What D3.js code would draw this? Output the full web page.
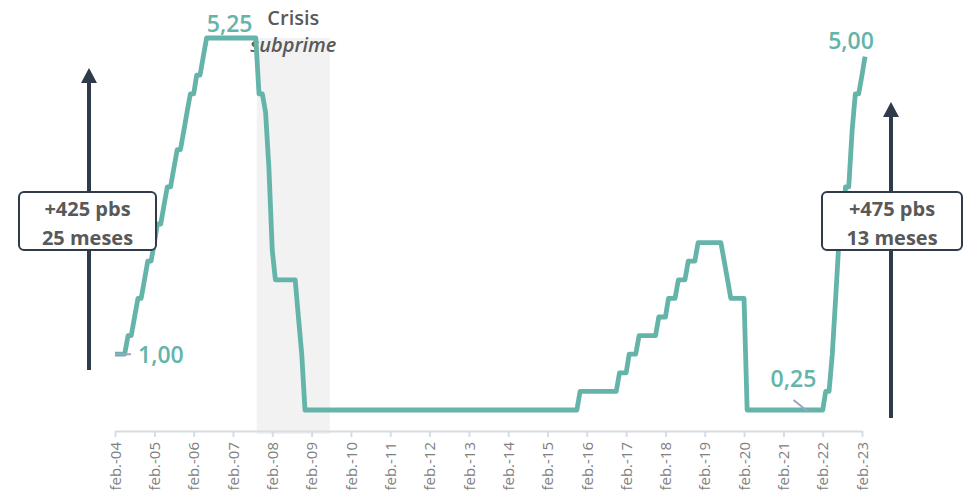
<!DOCTYPE html>
<html>
<head>
<meta charset="utf-8">
<script src="https://cdn.jsdelivr.net/npm/d3@7"></script>
<style>
	body { margin: 0; background: #fff; }
	svg { display: block; font-family: "Open Sans", sans-serif; }
</style>
</head>
<body>
<script>
const w = 971;
const h = 495;

// tipo objetivo (%), un valor por mes desde feb-2004
const rate2004 = [1.00, 1.00, 1.00, 1.00, 1.25, 1.25, 1.50, 1.75, 1.75, 2.00, 2.25];
const rate2005 = [2.25, 2.50, 2.75, 2.75, 3.00, 3.25, 3.25, 3.50, 3.75, 3.75, 4.00, 4.25];
const rate2006 = [4.50, 4.50, 4.75, 4.75, 5.00, 5.25, 5.25, 5.25, 5.25, 5.25, 5.25, 5.25];
const rate2007 = [5.25, 5.25, 5.25, 5.25, 5.25, 5.25, 5.25, 5.25, 5.25, 4.50, 4.50, 4.25];
const rate2008 = [3.50, 2.40, 2.00, 2.00, 2.00, 2.00, 2.00, 2.00, 2.00, 1.50, 1.00, 0.25];
const rate2009 = [0.25, 0.25, 0.25, 0.25, 0.25, 0.25, 0.25, 0.25, 0.25, 0.25, 0.25, 0.25];
const rate2010 = [0.25, 0.25, 0.25, 0.25, 0.25, 0.25, 0.25, 0.25, 0.25, 0.25, 0.25, 0.25];
const rate2011 = [0.25, 0.25, 0.25, 0.25, 0.25, 0.25, 0.25, 0.25, 0.25, 0.25, 0.25, 0.25];
const rate2012 = [0.25, 0.25, 0.25, 0.25, 0.25, 0.25, 0.25, 0.25, 0.25, 0.25, 0.25, 0.25];
const rate2013 = [0.25, 0.25, 0.25, 0.25, 0.25, 0.25, 0.25, 0.25, 0.25, 0.25, 0.25, 0.25];
const rate2014 = [0.25, 0.25, 0.25, 0.25, 0.25, 0.25, 0.25, 0.25, 0.25, 0.25, 0.25, 0.25];
const rate2015 = [0.25, 0.25, 0.25, 0.25, 0.25, 0.25, 0.25, 0.25, 0.25, 0.25, 0.25, 0.50];
const rate2016 = [0.50, 0.50, 0.50, 0.50, 0.50, 0.50, 0.50, 0.50, 0.50, 0.50, 0.50, 0.75];
const rate2017 = [0.75, 0.75, 1.00, 1.00, 1.00, 1.25, 1.25, 1.25, 1.25, 1.25, 1.25, 1.50];
const rate2018 = [1.50, 1.50, 1.75, 1.75, 1.75, 2.00, 2.00, 2.00, 2.25, 2.25, 2.25, 2.50];
const rate2019 = [2.50, 2.50, 2.50, 2.50, 2.50, 2.50, 2.50, 2.25, 2.00, 1.75, 1.75, 1.75];
const rate2020 = [1.75, 1.75, 0.25, 0.25, 0.25, 0.25, 0.25, 0.25, 0.25, 0.25, 0.25, 0.25];
const rate2021 = [0.25, 0.25, 0.25, 0.25, 0.25, 0.25, 0.25, 0.25, 0.25, 0.25, 0.25, 0.25];
const rate2022 = [0.25, 0.25, 0.50, 0.50, 1.00, 1.75, 2.50, 2.50, 3.25, 3.25, 4.00, 4.50];
const rate2023 = [4.50, 4.75, 5.00];

const tickYears = ['04', '05', '06', '07', '08', '09', '10', '11', '12', '13',
	'14', '15', '16', '17', '18', '19', '20', '21', '22', '23'];

const crisisPeriod = ['2007-09-10', '2009-07-20'];

const valueLabels = [
	{ date: '2007-01-01', value: 5.25, text: '5,25' },
	{ date: '2023-03-01', value: 5.00, text: '5,00' },
	{ date: '2004-02-01', value: 1.00, text: '1,00' },
	{ date: '2021-10-01', value: 0.25, text: '0,25' }
];

const hikes = [
	{ lines: ['+425 pbs', '25 meses'] },
	{ lines: ['+475 pbs', '13 meses'] }
];

const teal = '#64b4aa';
const navy = '#2f3b4b';
const grey = '#595959';

const allRates = [].concat(rate2004, rate2005, rate2006, rate2007, rate2008, rate2009,
	rate2010, rate2011, rate2012, rate2013, rate2014, rate2015, rate2016, rate2017,
	rate2018, rate2019, rate2020, rate2021, rate2022, rate2023);
const start = new Date(2004, 1, 1);
const data = allRates.map((v, i) => ({ date: d3.timeMonth.offset(start, i), value: v }));
const parse = d3.timeParse('%Y-%m-%d');

const x = d3.scaleTime()
	.domain([start, new Date(2023, 1, 1)])
	.range([115, 862]);

const y = d3.scaleLinear()
	.domain([0, 5.25])
	.range([428.6, 38]);

const axisY = 431;

const svg = d3.select('body').append('svg')
	.attr('width', w)
	.attr('height', h);

// sombreado crisis
svg.append('rect')
	.attr('x', x(parse(crisisPeriod[0])))
	.attr('y', y(5.25))
	.attr('width', x(parse(crisisPeriod[1])) - x(parse(crisisPeriod[0])))
	.attr('height', axisY + 3 - y(5.25))
	.attr('fill', '#f2f2f2');

const crisisMid = (x(parse(crisisPeriod[0])) + x(parse(crisisPeriod[1]))) / 2;
svg.append('text')
	.attr('x', crisisMid)
	.attr('y', 25)
	.attr('text-anchor', 'middle')
	.style('font-size', '20px')
	.style('font-weight', 600)
	.attr('fill', grey)
	.text('Crisis');
svg.append('text')
	.attr('x', crisisMid)
	.attr('y', 52)
	.attr('text-anchor', 'middle')
	.style('font-size', '20px')
	.style('font-weight', 600)
	.style('font-style', 'italic')
	.attr('fill', grey)
	.text('subprime');

// eje x
const xAxis = d3.axisBottom(x)
	.tickValues(tickYears.map(yy => new Date(2000 + +yy, 1, 1)))
	.tickSize(6)
	.tickSizeOuter(0)
	.tickFormat((d, i) => 'feb.-' + tickYears[i]);

const gx = svg.append('g')
	.attr('transform', `translate(0,${axisY})`)
	.call(xAxis);

gx.select('.domain').attr('stroke', '#d6dce5').attr('stroke-width', 2);
gx.selectAll('.tick line').attr('stroke', '#d6dce5').attr('stroke-width', 2);
gx.selectAll('.tick text')
	.attr('transform', 'rotate(-90)')
	.attr('text-anchor', 'end')
	.attr('x', -11)
	.attr('y', 0)
	.attr('dy', '0.35em')
	.attr('fill', '#808080')
	.style('font-family', '"Open Sans", sans-serif')
	.style('font-size', '15px');

// serie
const line = d3.line()
	.x(d => x(d.date))
	.y(d => y(d.value));

svg.append('path')
	.datum(data)
	.attr('d', line)
	.attr('fill', 'none')
	.attr('stroke', teal)
	.attr('stroke-width', 4.8)
	.attr('stroke-linejoin', 'round');

// etiquetas de valor
const lbl = valueLabels.map(d => ({ ...d, px: x(parse(d.date)), py: y(d.value) }));

svg.append('line')
	.attr('x1', lbl[2].px).attr('x2', lbl[2].px + 16)
	.attr('y1', lbl[2].py).attr('y2', lbl[2].py)
	.attr('stroke', '#9aa6bf').attr('stroke-width', 2);

svg.append('line')
	.attr('x1', lbl[3].px - 16).attr('y1', lbl[3].py - 10)
	.attr('x2', lbl[3].px - 1).attr('y2', lbl[3].py + 2)
	.attr('stroke', '#9aa6bf').attr('stroke-width', 2);

const labelPos = [
	{ dx: 0, dy: -6, anchor: 'middle' },
	{ dx: -14, dy: -8, anchor: 'middle' },
	{ dx: 23, dy: 9, anchor: 'start' },
	{ dx: -16, dy: -23, anchor: 'middle' }
];

svg.selectAll('.vlabel')
	.data(lbl)
	.enter()
	.append('text')
	.attr('class', 'vlabel')
	.attr('x', (d, i) => d.px + labelPos[i].dx)
	.attr('y', (d, i) => d.py + labelPos[i].dy)
	.attr('text-anchor', (d, i) => labelPos[i].anchor)
	.style('font-size', '23px')
	.style('font-weight', 600)
	.attr('fill', teal)
	.text(d => d.text);

// flechas y cajas
const arrows = [
	{ cx: 89, top: 68, bottom: 370, box: [19, 192, 137, 58] },
	{ cx: 891, top: 102, bottom: 418, box: [822, 192, 140, 58] }
];

arrows.forEach((a, i) => {
	svg.append('line')
		.attr('x1', a.cx).attr('x2', a.cx)
		.attr('y1', a.bottom).attr('y2', a.top + 12)
		.attr('stroke', navy).attr('stroke-width', 4);
	svg.append('path')
		.attr('d', `M${a.cx - 8},${a.top + 15}L${a.cx + 8},${a.top + 15}L${a.cx},${a.top}Z`)
		.attr('fill', navy);
	const [bx, by, bw, bh] = a.box;
	svg.append('rect')
		.attr('x', bx).attr('y', by)
		.attr('width', bw).attr('height', bh)
		.attr('rx', 5)
		.attr('fill', '#fff')
		.attr('stroke', navy)
		.attr('stroke-width', 2);
	hikes[i].lines.forEach((t, j) => {
		svg.append('text')
			.attr('x', bx + bw / 2)
			.attr('y', by + 24 + j * 29)
			.attr('text-anchor', 'middle')
			.style('font-size', '20px')
			.style('font-weight', 700)
			.attr('fill', grey)
			.text(t);
	});
});
</script>
</body>
</html>
